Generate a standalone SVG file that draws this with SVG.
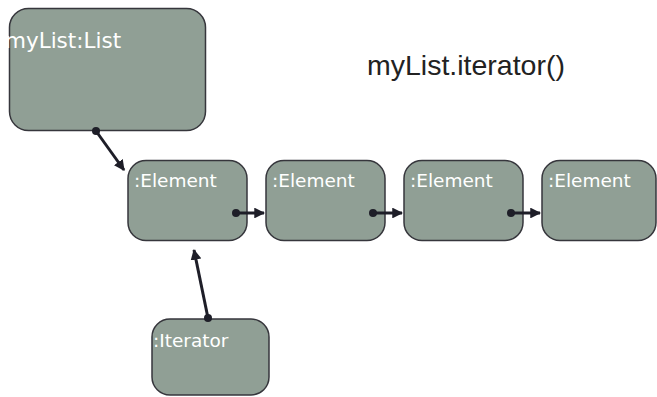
<svg xmlns="http://www.w3.org/2000/svg" width="657" height="397" viewBox="0 0 657 397">
  <style>
    .box { fill: #909f95; stroke: #36363c; stroke-width: 1.5; }
    .lbl { fill: #ffffff; font-family: "DejaVu Sans", Verdana, sans-serif; font-size: 18.5px; }
    .big { font-size: 21.5px; }
    .title { fill: #222222; font-family: "Liberation Sans", Arial, sans-serif; font-size: 28.5px; }
    .link { stroke: #1e1e28; stroke-width: 3; fill: none; marker-end: url(#head); }
    .dot { fill: #1e1e28; }
  </style>
  <defs>
    <marker id="head" viewBox="0 0 10 10" refX="9" refY="5" markerWidth="3.6" markerHeight="3.6" orient="auto" markerUnits="strokeWidth">
      <path d="M0,0 L10,5 L0,10 Z" fill="#1e1e28"/>
    </marker>
  </defs>

  <rect width="657" height="397" fill="#ffffff"/>

  <text class="title" x="367" y="75">myList.iterator()</text>

  <g id="myList">
    <rect class="box" x="9.5" y="8.5" width="196" height="122" rx="19"/>
    <text class="lbl big" x="5" y="48">myList:List</text>
  </g>

  <g id="element1">
    <rect class="box" x="128" y="160.5" width="119" height="80" rx="18"/>
    <text class="lbl" x="134" y="187">:Element</text>
  </g>

  <g id="element2">
    <rect class="box" x="266" y="160.5" width="119" height="80" rx="18"/>
    <text class="lbl" x="272" y="187">:Element</text>
  </g>

  <g id="element3">
    <rect class="box" x="404" y="160.5" width="119" height="80" rx="18"/>
    <text class="lbl" x="410" y="187">:Element</text>
  </g>

  <g id="element4">
    <rect class="box" x="542" y="160.5" width="114" height="80" rx="18"/>
    <text class="lbl" x="548" y="187">:Element</text>
  </g>

  <g id="iterator">
    <rect class="box" x="152" y="319" width="117" height="76" rx="18"/>
    <text class="lbl" x="153" y="347">:Iterator</text>
  </g>

  <g id="connectors">
    <line class="link" x1="96" y1="131" x2="124" y2="170"/>
    <circle class="dot" cx="96" cy="131" r="4"/>

    <line class="link" x1="236" y1="213" x2="264" y2="213"/>
    <circle class="dot" cx="236" cy="213" r="4"/>

    <line class="link" x1="373" y1="213" x2="402" y2="213"/>
    <circle class="dot" cx="373" cy="213" r="4"/>

    <line class="link" x1="511" y1="213" x2="540" y2="213"/>
    <circle class="dot" cx="511" cy="213" r="4"/>

    <line class="link" x1="208" y1="318" x2="194" y2="250"/>
    <circle class="dot" cx="208" cy="318" r="4"/>
  </g>
</svg>
